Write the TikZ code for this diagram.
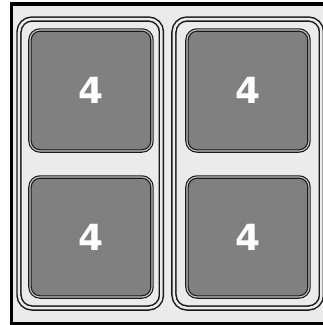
\documentclass[tikz,border=0pt]{standalone}
\usepackage{fontspec}
\setmainfont{DejaVu Sans}
\usepackage{tikz}
\usetikzlibrary{positioning, backgrounds}
\definecolor{bglight}{RGB}{235,235,235}
\definecolor{pangray}{RGB}{128,128,128}
\definecolor{edgedark}{RGB}{25,25,25}

\begin{document}
\begin{tikzpicture}[
    x=1pt, y=-1pt,
    frame/.style={draw=black,line width=3.2pt,fill=bglight},
    bay node/.style={rectangle,rounded corners=13pt,draw=edgedark,line width=1.5pt,double=bglight,double distance=2.5pt,inner sep=0pt},
    pan node/.style={rectangle,rounded corners=10pt,draw=edgedark,line width=1.2pt,double=gray!45,double distance=1.1pt,fill=pangray,inner sep=0pt,minimum width=122pt,text=white,font=\fontsize{36}{36}\selectfont\bfseries}
]
\useasboundingbox (0,0) rectangle (323,325);

% Frame
\draw[frame] (11.5,4) rectangle (340,323.5);

% Bays
\node[bay node,minimum width=142.5pt,minimum height=289pt] (leftbay) at (90.25,163.5) {};
\node[bay node,minimum width=147.5pt,minimum height=289pt] (rightbay) at (247.75,163.5) {};

% Pans
\node[pan node,minimum height=121pt] (pantl) at (91,90.5) {4};
\node[pan node,minimum height=121pt] (pantr) at (248,90.5) {4};
\node[pan node,minimum height=120pt] (panbl) at (91,237) {4};
\node[pan node,minimum height=120pt] (panbr) at (248,237) {4};

\end{tikzpicture}
\end{document}
